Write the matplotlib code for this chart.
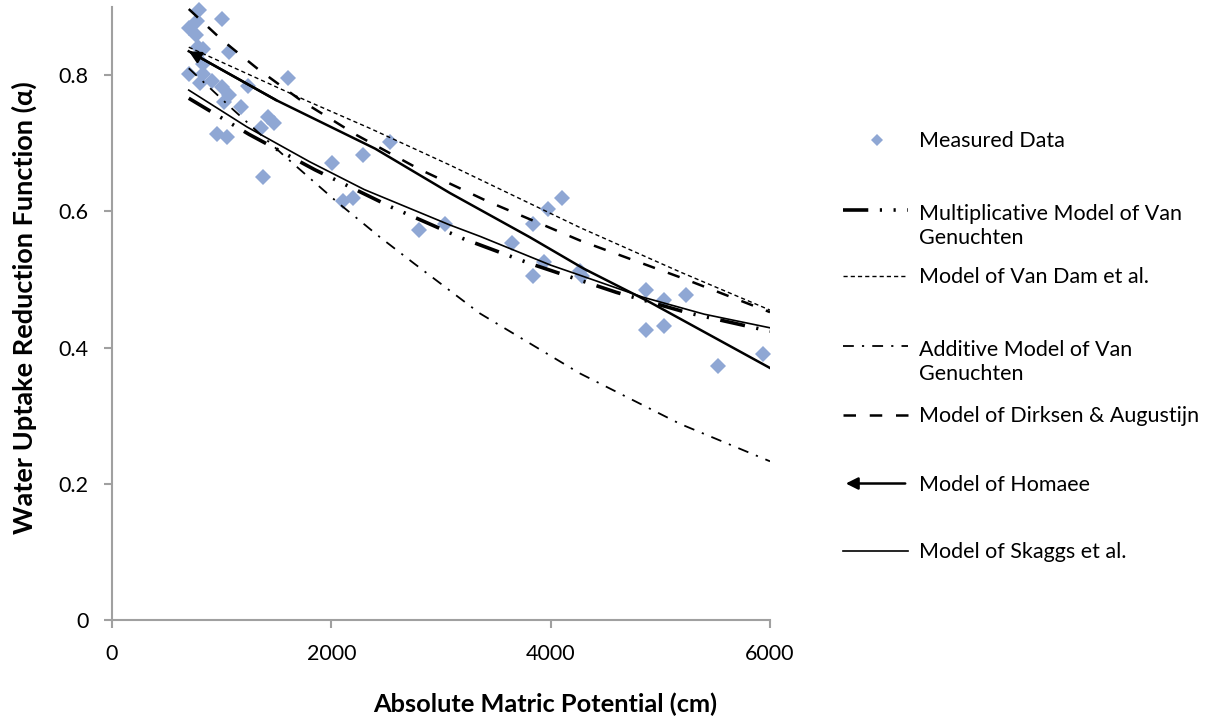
import matplotlib
matplotlib.use('Agg')
import matplotlib.pyplot as plt
from matplotlib.lines import Line2D
from matplotlib.patches import FancyArrowPatch
from matplotlib.transforms import Affine2D

plt.rcParams['font.family'] = ['Lato', 'DejaVu Sans']

# measured data (absolute matric potential in cm, alpha)
meas_x = [796, 1000, 772, 705, 766, 787, 833, 1070, 833, 705, 827, 802, 909, 1000,
          1070, 1021, 1176, 1608, 1237, 1420, 1480, 1359, 954, 1045, 1380, 2292, 2003,
          2535, 2103, 2194, 2799, 3036, 3645, 3836, 3979, 4100, 3836, 3942,
          4270, 4290, 4869, 5033, 5234, 4869, 5033, 5523, 5939]
meas_y = [0.896, 0.882, 0.880, 0.869, 0.859, 0.842, 0.839, 0.834, 0.817, 0.801, 0.801, 0.789, 0.791, 0.783,
          0.771, 0.761, 0.753, 0.796, 0.784, 0.739, 0.730, 0.723, 0.714, 0.709, 0.651, 0.683, 0.671,
          0.702, 0.615, 0.620, 0.572, 0.582, 0.554, 0.581, 0.603, 0.620, 0.505, 0.526,
          0.512, 0.505, 0.485, 0.470, 0.477, 0.426, 0.431, 0.373, 0.391]

# model curves
mult_x = [700, 1250, 1850, 2550, 3200, 3800, 4600, 5250, 6000]
mult_y = [0.766, 0.713, 0.661, 0.606, 0.560, 0.524, 0.481, 0.451, 0.424]

vandam_x = [700, 1780, 2350, 3080, 4270, 5180, 6000]
vandam_y = [0.841, 0.762, 0.722, 0.668, 0.576, 0.511, 0.455]

add_x = [700, 1100, 1560, 2050, 2444, 2750, 3356, 4267, 5179, 6000]
add_y = [0.810, 0.750, 0.683, 0.614, 0.562, 0.524, 0.450, 0.362, 0.288, 0.233]

dirk_x = [700, 1000, 1330, 1730, 2230, 2800, 3420, 4270, 5200, 6000]
dirk_y = [0.897, 0.852, 0.809, 0.762, 0.712, 0.662, 0.615, 0.557, 0.502, 0.452]

hom_x = [700, 1500, 2400, 3080, 3810, 4300, 4900, 6000]
hom_y = [0.835, 0.763, 0.692, 0.627, 0.562, 0.516, 0.467, 0.370]

skag_x = [700, 1230, 1800, 2300, 3080, 3360, 4000, 4270, 4840, 5400, 6000]
skag_y = [0.778, 0.724, 0.673, 0.632, 0.580, 0.563, 0.521, 0.506, 0.474, 0.449, 0.429]

labels = ['Measured Data',
          'Multiplicative Model of Van\nGenuchten',
          'Model of Van Dam et al.',
          'Additive Model of Van\nGenuchten',
          'Model of Dirksen & Augustijn',
          'Model of Homaee',
          'Model of Skaggs et al.']

marker_color = '#8FA7D4'
axis_color = '#A0A0A0'

styles = {
    'mult': dict(color='black', lw=2.6, dashes=(7, 3.2, 0.6, 3.2, 0.6, 3.2)),
    'vandam': dict(color='black', lw=1.0, dashes=(3, 2.2)),
    'add': dict(color='black', lw=1.3, dashes=(6, 4.5, 1.2, 4.5)),
    'dirk': dict(color='black', lw=1.8, dashes=(5, 5.5)),
    'hom': dict(color='black', lw=1.8),
    'skag': dict(color='black', lw=1.2),
}

W, H = 1216, 723
fig = plt.figure(figsize=(W / 100, H / 100), dpi=100)
ax = fig.add_axes([112 / W, 1 - 620 / H, (770 - 112) / W, (620 - 7) / H])

ax.plot(meas_x, meas_y, linestyle='none', marker='D', ms=8, color=marker_color,
        markeredgewidth=0, zorder=2, clip_on=False)
ax.plot(mult_x, mult_y, **styles['mult'], zorder=3)
ax.plot(vandam_x, vandam_y, **styles['vandam'], zorder=3)
ax.plot(add_x, add_y, **styles['add'], zorder=3)
ax.plot(dirk_x, dirk_y, **styles['dirk'], zorder=3)
ax.plot(hom_x, hom_y, **styles['hom'], zorder=3)
ax.annotate('', xy=(hom_x[0], hom_y[0]), xytext=(hom_x[1], hom_y[1]),
            arrowprops=dict(arrowstyle='-|>', color='black', lw=1.8, mutation_scale=18,
                            shrinkA=0, shrinkB=0), zorder=3)
ax.plot(skag_x, skag_y, **styles['skag'], zorder=3)

ax.set_xlim(0, 6000)
ax.set_ylim(0, 0.9)
ax.set_xticks([0, 2000, 4000, 6000])
ax.set_yticks([0, 0.2, 0.4, 0.6, 0.8])
ax.set_yticklabels(['0', '0.2', '0.4', '0.6', '0.8'])
for s in ['top', 'right']:
    ax.spines[s].set_visible(False)
for s in ['left', 'bottom']:
    ax.spines[s].set_color(axis_color)
    ax.spines[s].set_linewidth(1.5)
ax.tick_params(direction='out', length=6, width=1.5, color=axis_color, labelsize=15.5)
ax.tick_params(axis='x', pad=11)
ax.tick_params(axis='y', pad=11)

fig.text(545 / W, 1 - 704 / H, 'Absolute Matric Potential (cm)', ha='center', va='center',
         fontsize=18.3, fontweight='bold')
fig.text(24 / W, 1 - 308 / H, 'Water Uptake Reduction Function (\u03b1)', ha='center',
         va='center', rotation=90, fontsize=19.5, fontweight='bold')

# legend drawn in pixel coordinates on the right
pix = Affine2D().scale(1 / W, -1 / H).translate(0, 1) + fig.transFigure
baselines = [147, 217, 283, 353, 422, 491, 558]
handle_keys = [None, 'mult', 'vandam', 'add', 'dirk', 'hom', 'skag']
line_step = 26.5
for lab, base, key in zip(labels, baselines, handle_keys):
    yy = base - 7.5
    if key is None:
        fig.add_artist(Line2D([877], [yy], marker='D', ms=6, color=marker_color,
                              markeredgewidth=0, linestyle='none', transform=pix))
    elif key == 'hom':
        fig.add_artist(FancyArrowPatch((908, yy), (843, yy), arrowstyle='-|>',
                                       mutation_scale=18, color='black', lw=1.8,
                                       transform=pix))
    else:
        fig.add_artist(Line2D([843, 908], [yy, yy], transform=pix, **styles[key]))
    nlines = lab.count('\n') + 1
    fig.text(919, base + line_step * (nlines - 1), lab, transform=pix, ha='left',
             va='baseline', fontsize=15.5, linespacing=1.22)

fig.savefig('out.png', dpi=100)
